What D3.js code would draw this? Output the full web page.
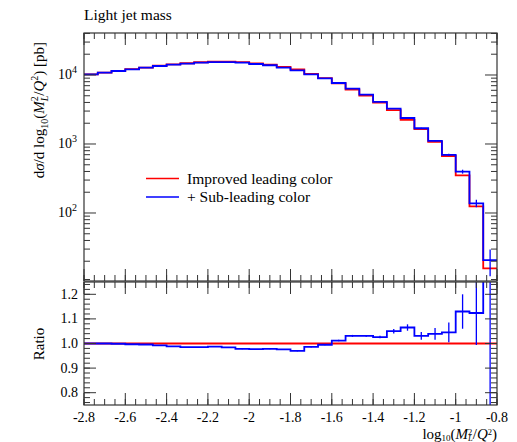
<!DOCTYPE html>
<html><head><meta charset="utf-8">
<script src="https://cdn.jsdelivr.net/npm/d3@7"></script>
<style>
body{margin:0;background:#fff;}
text{font-family:"Liberation Serif","Times New Roman",serif;fill:#000;}
</style></head>
<body><svg id="c" width="517" height="442"></svg>
<script>
// ---- data ----
const binEdges = [-2.8,-2.7333,-2.6667,-2.6,-2.5333,-2.4667,-2.4,-2.3333,-2.2667,-2.2,-2.1333,-2.0667,-2.0,-1.9333,-1.8667,-1.8,-1.7333,-1.6667,-1.6,-1.5333,-1.4667,-1.4,-1.3333,-1.2667,-1.2,-1.1333,-1.0667,-1.0,-0.9333,-0.8667,-0.8];
const improvedLeading = [10230,10800,11440,12140,12820,13610,14270,14800,15300,15610,15660,15410,14770,14140,13080,12060,10390,9000,7560,6140,5020,3970,3100,2230,1640,1070,670,350,125,15.8];
const subLeading = [10230,10800,11430,12100,12770,13500,14100,14580,15070,15410,15410,15070,14430,13830,12770,11700,10240,8960,7650,6330,5180,4070,3250,2380,1690,1110,695,398,138,20.8];
const subLeadingErr = [10,11,11,12,13,14,14,15,15,15,15,15,15,14,13,14,15,16,20,24,22,22,28,30,28,26,27,26,17,8.7];
const ratioSub = [1.0,1.0,0.999,0.997,0.996,0.992,0.988,0.985,0.985,0.987,0.984,0.978,0.977,0.978,0.976,0.970,0.986,0.995,1.012,1.031,1.031,1.026,1.050,1.065,1.031,1.039,1.045,1.130,1.124,1.32];
const ratioSubErr = [0.001,0.001,0.001,0.001,0.001,0.001,0.001,0.001,0.001,0.001,0.001,0.001,0.001,0.001,0.001,0.002,0.002,0.002,0.003,0.004,0.004,0.005,0.009,0.013,0.016,0.024,0.04,0.07,0.13,0.6];
const ratioRef = [1,1,1,1,1,1,1,1,1,1,1,1,1,1,1,1,1,1,1,1,1,1,1,1,1,1,1,1,1,1];
const xTickVals = [-2.8,-2.6,-2.4,-2.2,-2.0,-1.8,-1.6,-1.4,-1.2,-1.0,-0.8];
const xTickLabels = ["-2.8","-2.6","-2.4","-2.2","-2","-1.8","-1.6","-1.4","-1.2","-1","-0.8"];
const yMainTicks = [100,1000,10000];
const yMainExp = ["2","3","4"];
const yRatioTicks = [0.8,0.9,1.0,1.1,1.2];
const yRatioLabels = ["0.8","0.9","1.0","1.1","1.2"];
const legendNames = ["Improved leading color","+ Sub-leading color"];
const colors = ["#ff0000","#0000ff"];

// ---- layout ----
const L=84, R=497, mainTop=33, mainBot=281, ratTop=282, ratBot=405;
const svg = d3.select("#c");
const x = d3.scaleLinear().domain([-2.8,-0.8]).range([L,R]);
const y = d3.scaleLog().domain([10.34,40600]).range([mainBot,mainTop]);
const yr = d3.scaleLinear().domain([0.75,1.25]).range([ratBot,ratTop]);

const defs = svg.append("defs");
defs.append("clipPath").attr("id","cm").append("rect").attr("x",L).attr("y",mainTop).attr("width",R-L).attr("height",mainBot-mainTop);
defs.append("clipPath").attr("id","cr").append("rect").attr("x",L).attr("y",ratTop).attr("width",R-L).attr("height",ratBot-ratTop);

function stepPath(vals, ys){
  let p = "";
  vals.forEach((v,i)=>{
    const x0=x(binEdges[i]), x1=x(binEdges[i+1]), yy=ys(v);
    p += (i===0? "M"+x0+","+yy : "L"+x0+","+yy) + "L"+x1+","+yy;
  });
  return p;
}

// main histograms
const gm = svg.append("g").attr("clip-path","url(#cm)");
gm.append("path").attr("d",stepPath(improvedLeading,y)).attr("fill","none").attr("stroke",colors[0]).attr("stroke-width",1.8);
gm.append("path").attr("d",stepPath(subLeading,y)).attr("fill","none").attr("stroke",colors[1]).attr("stroke-width",1.8);
subLeading.forEach((v,i)=>{
  const xc = x((binEdges[i]+binEdges[i+1])/2);
  gm.append("line").attr("x1",xc).attr("x2",xc).attr("y1",y(v-subLeadingErr[i])).attr("y2",y(v+subLeadingErr[i]))
    .attr("stroke",colors[1]).attr("stroke-width",1.3);
});

// ratio
const gr = svg.append("g").attr("clip-path","url(#cr)");
gr.append("path").attr("d",stepPath(ratioRef,yr)).attr("fill","none").attr("stroke",colors[0]).attr("stroke-width",1.8);
gr.append("path").attr("d",stepPath(ratioSub,yr)).attr("fill","none").attr("stroke",colors[1]).attr("stroke-width",1.8);
ratioSub.forEach((v,i)=>{
  const xc = x((binEdges[i]+binEdges[i+1])/2);
  gr.append("line").attr("x1",xc).attr("x2",xc).attr("y1",yr(v-ratioSubErr[i])).attr("y2",yr(v+ratioSubErr[i]))
    .attr("stroke",colors[1]).attr("stroke-width",1.3);
});

// frames
svg.append("rect").attr("x",L).attr("y",mainTop).attr("width",R-L).attr("height",mainBot-mainTop).attr("fill","none").attr("stroke","#333").attr("stroke-width",1.2);
svg.append("rect").attr("x",L).attr("y",ratTop).attr("width",R-L).attr("height",ratBot-ratTop).attr("fill","none").attr("stroke","#333").attr("stroke-width",1.2);

// ticks helpers
const tickCol="#333", MAJ=12, MIN=6;
function xTicks(yEdge, dir){
  const minor=[];
  for(let k=0;k<=40;k++){ minor.push(-2.8+k*0.05); }
  minor.forEach(v=>{ svg.append("line").attr("x1",x(v)).attr("x2",x(v)).attr("y1",yEdge).attr("y2",yEdge+dir*MIN).attr("stroke",tickCol).attr("stroke-width",1); });
  xTickVals.forEach(v=>{ svg.append("line").attr("x1",x(v)).attr("x2",x(v)).attr("y1",yEdge).attr("y2",yEdge+dir*MAJ).attr("stroke",tickCol).attr("stroke-width",1); });
}
xTicks(mainTop,1); xTicks(mainBot,-1); xTicks(ratTop,1); xTicks(ratBot,-1);

function yTicksMain(){
  const minor=[];
  [10,100,1000,10000].forEach(d=>{ for(let k=2;k<=9;k++){ const v=k*d; if(v>=10.34 && v<=40600) minor.push(v);} });
  [L,R].forEach((xe,si)=>{
    const dir = si===0?1:-1;
    minor.forEach(v=>svg.append("line").attr("x1",xe).attr("x2",xe+dir*MIN).attr("y1",y(v)).attr("y2",y(v)).attr("stroke",tickCol));
    yMainTicks.forEach(v=>svg.append("line").attr("x1",xe).attr("x2",xe+dir*MAJ).attr("y1",y(v)).attr("y2",y(v)).attr("stroke",tickCol));
  });
}
yTicksMain();
function yTicksRatio(){
  const minor=[];
  for(let k=0;k<=25;k++){ minor.push(0.76+k*0.02); }
  [L,R].forEach((xe,si)=>{
    const dir = si===0?1:-1;
    minor.forEach(v=>svg.append("line").attr("x1",xe).attr("x2",xe+dir*MIN).attr("y1",yr(v)).attr("y2",yr(v)).attr("stroke",tickCol));
    yRatioTicks.forEach(v=>svg.append("line").attr("x1",xe).attr("x2",xe+dir*MAJ).attr("y1",yr(v)).attr("y2",yr(v)).attr("stroke",tickCol));
  });
}
yTicksRatio();

// tick labels
yMainTicks.forEach((v,i)=>{
  const t = svg.append("text").attr("x",77).attr("y",y(v)+4).attr("text-anchor","end").style("font-size","14px");
  t.append("tspan").text("10");
  t.append("tspan").attr("dy",-6).style("font-size","10px").text(yMainExp[i]);
});
yRatioTicks.forEach((v,i)=>{
  svg.append("text").attr("x",78).attr("y",yr(v)+4.5).attr("text-anchor","end").style("font-size","14px").text(yRatioLabels[i]);
});
xTickVals.forEach((v,i)=>{
  svg.append("text").attr("x",x(v)).attr("y",421.5).attr("text-anchor","middle").style("font-size","14px").text(xTickLabels[i]);
});

// title
svg.append("text").attr("x",84).attr("y",20).style("font-size","15.5px").text("Light jet mass");

// x label
{
  const t = svg.append("text").attr("x",497).attr("y",438.5).attr("text-anchor","end").style("font-size","15px");
  t.append("tspan").text("log");
  t.append("tspan").attr("dy",2).style("font-size","9px").text("10");
  t.append("tspan").attr("dy",-2).text("(");
  t.append("tspan").style("font-style","italic").text("M");
  t.append("tspan").attr("dy",-4).style("font-size","8.5px").text("2");
  t.append("tspan").attr("dx",-4.3).attr("dy",6).style("font-size","8.5px").style("font-style","italic").text("L");
  t.append("tspan").attr("dy",-2).text("/");
  t.append("tspan").style("font-style","italic").text("Q");
  t.append("tspan").attr("dy",-4).style("font-size","8.5px").text("2");
  t.append("tspan").attr("dy",4).text(")");
}
// y label
{
  const t = svg.append("text").attr("transform","translate(44,42) rotate(-90)").attr("text-anchor","end").style("font-size","15px");
  t.append("tspan").text("d");
  t.append("tspan").style("font-style","italic").text("σ");
  t.append("tspan").text("/d log");
  t.append("tspan").attr("dy",4).style("font-size","10px").text("10");
  t.append("tspan").attr("dy",-4).text("(");
  t.append("tspan").style("font-style","italic").text("M");
  t.append("tspan").attr("dy",-6).style("font-size","10px").text("2");
  t.append("tspan").attr("dx",-5).attr("dy",10).style("font-size","10px").style("font-style","italic").text("L");
  t.append("tspan").attr("dy",-4).text("/");
  t.append("tspan").style("font-style","italic").text("Q");
  t.append("tspan").attr("dy",-6).style("font-size","10px").text("2");
  t.append("tspan").attr("dy",6).text(") [pb]");
}
// ratio label
svg.append("text").attr("transform","translate(44,344) rotate(-90)").attr("text-anchor","middle").style("font-size","15px").text("Ratio");

// legend
legendNames.forEach((n,i)=>{
  const yy = 178.5 + i*18.5;
  svg.append("line").attr("x1",146).attr("x2",179).attr("y1",yy).attr("y2",yy).attr("stroke",colors[i]).attr("stroke-width",1.3);
  svg.append("text").attr("x",187).attr("y",yy+5).style("font-size","15.5px").text(n);
});
</script></body></html>
